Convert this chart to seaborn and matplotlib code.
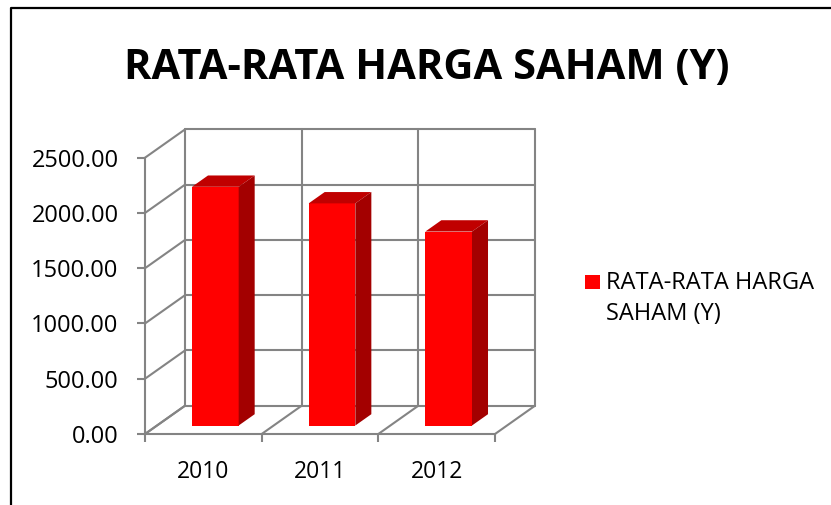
import matplotlib.pyplot as plt
import pandas as pd
import seaborn as sns
from matplotlib.lines import Line2D
from matplotlib.patches import Polygon, Rectangle

# data
years = ["2010", "2011", "2012"]
harga = [2160, 2010, 1755]
yticks = [0, 500, 1000, 1500, 2000, 2500]
title = "RATA-RATA HARGA SAHAM (Y)"
legend_label = "RATA-RATA HARGA\nSAHAM (Y)"

W, H = 831, 505
DX, DY = 0.343, 256   # depth of the 3d box, in data units (category, value)
Z0, Z1 = 0.3, 0.7     # depth range of the columns
GRID = "#848484"
FRONT, TOP, SIDE = "#FF0000", "#C00000", "#A30000"

sns.set_style("white")
plt.rcParams["font.family"] = ["Open Sans", "DejaVu Sans"]
plt.rcParams["text.color"] = "black"

fig = plt.figure(figsize=(W / 100, H / 100), dpi=100)
ax = fig.add_axes([145 / W, 1 - 434 / H, 350 / W, (434 - 157.7) / H])

df = pd.DataFrame({"year": years, "harga": harga})
sns.barplot(data=df, x="year", y="harga", color=FRONT, saturation=1,
            width=0.4, linewidth=0, ax=ax, zorder=3)
ax.set_xlim(-0.5, len(years) - 0.5)
ax.set_ylim(0, yticks[-1])

# push the columns back into the box and give them a top and a side
d = Z1 - Z0
for p in list(ax.patches):
    x0 = p.get_x() + Z0 * DX
    y0 = Z0 * DY
    w, h = p.get_width(), p.get_height()
    p.set_x(x0)
    p.set_y(y0)
    p.set_clip_on(False)
    x1, y1 = x0 + w, y0 + h
    ax.add_patch(Polygon([(x0, y1), (x1, y1), (x1 + d * DX, y1 + d * DY), (x0 + d * DX, y1 + d * DY)],
                         closed=True, fc=TOP, ec="none", zorder=3, clip_on=False))
    ax.add_patch(Polygon([(x1, y0), (x1 + d * DX, y0 + d * DY), (x1 + d * DX, y1 + d * DY), (x1, y1)],
                         closed=True, fc=SIDE, ec="none", zorder=3, clip_on=False))

# walls and floor
lw = 1.5
bounds = [i - 0.5 for i in range(len(years) + 1)]
top = yticks[-1]
for v in yticks:
    ax.plot([bounds[0] + DX, bounds[-1] + DX], [v + DY, v + DY], color=GRID, lw=lw, clip_on=False, zorder=1)
    ax.plot([bounds[0], bounds[0] + DX], [v, v + DY], color=GRID, lw=lw, clip_on=False, zorder=1)
for b in bounds:
    ax.plot([b + DX, b + DX], [DY, top + DY], color=GRID, lw=lw, clip_on=False, zorder=1)
    ax.plot([b, b + DX], [0, DY], color=GRID, lw=lw, clip_on=False, zorder=1)

sns.despine(ax=ax)
for s in ["left", "bottom"]:
    ax.spines[s].set_color(GRID)
    ax.spines[s].set_linewidth(lw)

ax.set_yticks(yticks, [f"{v:.2f}" for v in yticks])
ax.set_xticks(bounds, minor=True)
ax.tick_params(axis="y", left=True, length=6, width=lw, color=GRID, pad=13, labelsize=17, labelcolor="black")
ax.tick_params(axis="x", which="major", bottom=True, length=0, pad=19, labelsize=16.5, labelcolor="black")
ax.tick_params(axis="x", which="minor", bottom=True, length=6, width=lw, color=GRID)
ax.set_xlabel("")
ax.set_ylabel("")

# title
fig.text(427 / W, 1 - 79 / H, title, ha="center", va="baseline", fontsize=30, fontweight="bold")

# legend, marker level with the first line like the original
fig.add_artist(Rectangle((585 / W, 1 - 289 / H), 15 / W, 14 / H, transform=fig.transFigure,
                         fc=FRONT, ec="none"))
fig.text(606 / W, 1 - 320 / H, legend_label, ha="left", va="baseline", fontsize=17, linespacing=1.37)

# chart frame
fig.add_artist(Line2D([11 / W, 11 / W, 1], [0, 1 - 8 / H, 1 - 8 / H], transform=fig.transFigure,
                      color="black", lw=1.6))

fig.savefig("out.png", dpi=100, facecolor="white")
